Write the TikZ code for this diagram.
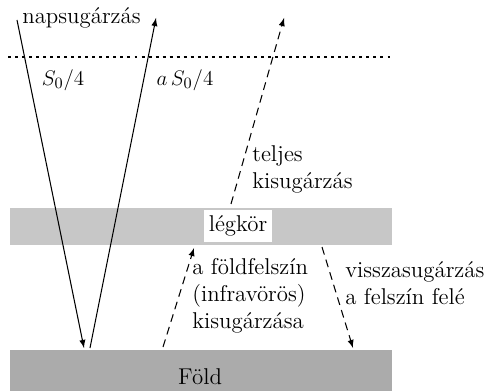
\documentclass[tikz,border=0pt]{standalone}
\usepackage{amsmath,amssymb}
\begin{document}
\begin{tikzpicture}[x=0.02cm,y=-0.02cm,>=latex,
    every node/.style={font=\fontsize{13}{15.3}\selectfont,inner sep=0pt},
    ray/.style={->,line width=0.6pt},
    rayd/.style={->,line width=0.6pt,dash pattern=on 4.5pt off 3pt}]
    \useasboundingbox (0,0) rectangle (493,391);
    % legkor es fold
    \fill[black!22] (10,208) rectangle (392,245);
    \fill[black!33] (10,350) rectangle (392,391);
    \draw[dash pattern=on 1.7pt off 2.3pt,line width=0.6pt] (8,57)--(392,57);
    \node[fill=white,inner sep=3pt] (legkor) at (238,226) {légkör};
    \node (fold) at (200,377) {Föld};
    % napsugarzas
    \coordinate (sunin) at (17,20);
    \coordinate (hitin) at (84,348);
    \coordinate (hitout) at (90,348);
    \coordinate (sunout) at (156,18);
    \draw[ray] (sunin)--(hitin);
    \draw[ray] (hitout)--(sunout);
    \node[anchor=west] (nap) at (22,18) {napsugárzás};
    \node (be) at (63,80) {$S_0/4$};
    \node (ki) at (185,80) {$a\,S_0/4$};
    % kisugarzas
    \coordinate (telj0) at (231,204);
    \coordinate (telj1) at (284,18);
    \coordinate (fel0) at (163,347);
    \coordinate (fel1) at (194,248);
    \coordinate (vissza0) at (322,247);
    \coordinate (vissza1) at (353,348);
    \draw[rayd] (telj0)--(telj1);
    \draw[rayd] (fel0)--(fel1);
    \draw[rayd] (vissza0)--(vissza1);
    \node[anchor=west,align=left] (teljes) at (252,169) {teljes\\kisugárzás};
    \node[anchor=west,align=left] (felszin) at (192,296) {a földfelszín\\(infravörös)\\kisugárzása};
    \node[anchor=west,align=left] (visszasug) at (345,283) {visszasugárzás\\a felszín felé};
\end{tikzpicture}
\end{document}
